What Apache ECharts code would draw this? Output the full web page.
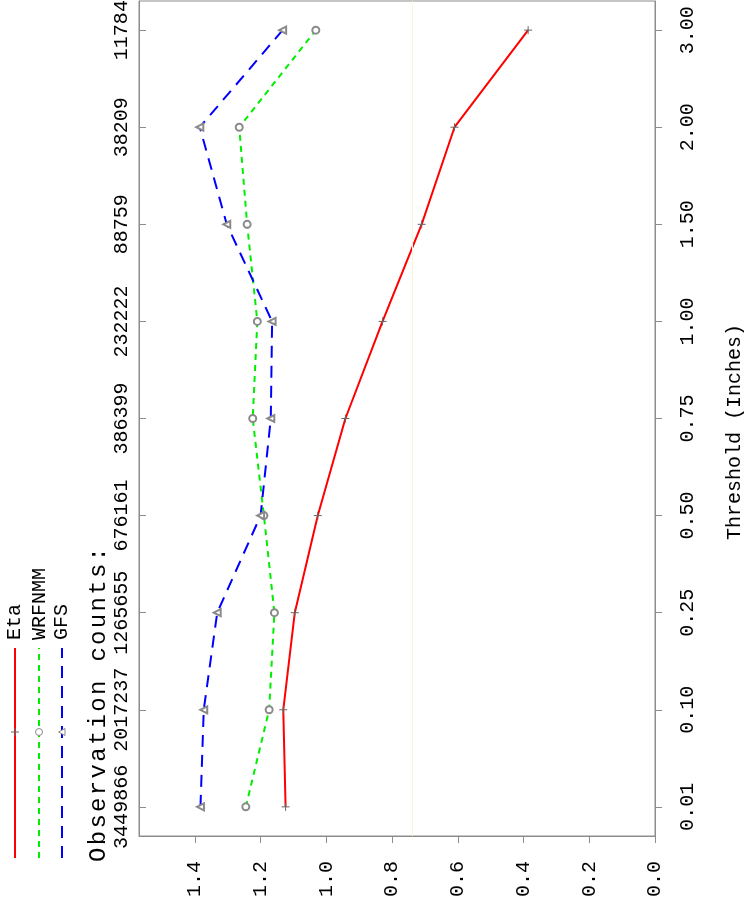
<!DOCTYPE html>
<html>
<head>
<meta charset="utf-8">
<script src="https://cdn.jsdelivr.net/npm/echarts@6/dist/echarts.min.js"></script>
<style>
  html, body { margin: 0; padding: 0; background: #fff; }
  #chart { width: 747px; height: 903px; }
</style>
</head>
<body>
<div id="chart"></div>
<script>
// Precipitation threshold categories (inches) and observation counts per threshold
const thresholds = ['0.01', '0.10', '0.25', '0.50', '0.75', '1.00', '1.50', '2.00', '3.00'];
const obsCounts = ['3449866', '2017237', '1265655', '676161', '386399', '232222', '88759', '38209', '11784'];

// Score per threshold for each model
const etaValues = [1.124, 1.131, 1.096, 1.026, 0.942, 0.829, 0.710, 0.610, 0.386];
const wrfnmmValues = [1.245, 1.174, 1.158, 1.190, 1.224, 1.210, 1.241, 1.265, 1.032];
const gfsValues = [1.383, 1.373, 1.332, 1.200, 1.169, 1.165, 1.303, 1.385, 1.133];

const valueTicks = [0, 0.2, 0.4, 0.6, 0.8, 1.0, 1.2, 1.4];
const refLine = 0.745;

const FONT = 'Liberation Mono';
const AXIS_GREY = '#8c8c8c';
const MARK_GREY = '#8a8a8a';

const pts = vals => vals.map((v, i) => [v, i]);
const idx = thresholds.map((_, i) => i);

const chart = echarts.init(document.getElementById('chart'), null, { renderer: 'canvas' });

const plusPath = 'path://M0,5L10,5M5,0L5,10';

// Widely spaced caption: one glyph per text element
const caption = 'Observation counts:';
const captionGlyphs = caption.split('').map((ch, i) => ({
  type: 'text', x: 41 + i * 16.7, y: 99,
  style: { text: ch, font: '24px "Liberation Mono"', fill: '#000', verticalAlign: 'middle', align: 'left' }
}));

const option = {
  animation: false,
  backgroundColor: '#ffffff',
  grid: {
    left: 139, right: 92, top: 1, bottom: 67,
    containLabel: false,
    outerBoundsMode: 'none',
    show: true, borderColor: AXIS_GREY, borderWidth: 1, backgroundColor: 'transparent'
  },
  xAxis: {
    type: 'value',
    inverse: true,
    min: 0,
    max: 1.57,
    position: 'bottom',
    axisLine: { show: true, onZero: false, lineStyle: { color: AXIS_GREY, width: 1 } },
    axisTick: { show: true, inside: false, length: 7, lineStyle: { color: AXIS_GREY }, customValues: valueTicks },
    axisLabel: {
      rotate: 90, margin: 25, color: '#000', fontFamily: FONT, fontSize: 20,
      customValues: valueTicks,
      formatter: v => v.toFixed(1)
    },
    splitLine: { show: false }
  },
  yAxis: [
    {
      type: 'value',
      min: -0.3,
      max: 8.3,
      position: 'right',
      axisLine: { show: true, lineStyle: { color: AXIS_GREY } },
      axisTick: { show: true, inside: false, length: 7, lineStyle: { color: AXIS_GREY }, customValues: idx },
      axisLabel: {
        rotate: 90, margin: 23, color: '#000', fontFamily: FONT, fontSize: 20,
        customValues: idx,
        formatter: v => thresholds[Math.round(v)]
      },
      splitLine: { show: false }
    },
    {
      type: 'value',
      min: -0.3,
      max: 8.3,
      position: 'left',
      axisLine: { show: true, lineStyle: { color: AXIS_GREY } },
      axisTick: { show: true, inside: true, length: 7, lineStyle: { color: AXIS_GREY }, customValues: idx },
      axisLabel: {
        rotate: 90, margin: 7, color: '#000', fontFamily: FONT, fontSize: 20,
        customValues: idx,
        formatter: v => obsCounts[Math.round(v)]
      },
      splitLine: { show: false }
    }
  ],
  series: [
    {
      name: 'Eta',
      type: 'line',
      data: pts(etaValues),
      lineStyle: { color: '#ff0000', width: 2, type: 'solid' },
      symbol: plusPath,
      symbolSize: 8,
      itemStyle: { color: 'none', borderColor: '#666', borderWidth: 1 },
      z: 3,
      markLine: {
        silent: true,
        symbol: ['none', 'none'],
        label: { show: false },
        lineStyle: { color: '#f8f5d6', width: 1, type: 'solid' },
        data: [{ xAxis: refLine }]
      }
    },
    {
      name: 'WRFNMM',
      type: 'line',
      data: pts(wrfnmmValues),
      lineStyle: { color: '#00ee00', width: 2, type: [6, 5] },
      symbol: 'emptyCircle',
      symbolSize: 7,
      itemStyle: { color: MARK_GREY, borderColor: MARK_GREY, borderWidth: 1 },
      z: 3
    },
    {
      name: 'GFS',
      type: 'line',
      data: pts(gfsValues),
      lineStyle: { color: '#0000ff', width: 2, type: [12, 8] },
      symbol: 'emptyTriangle',
      symbolSize: 7,
      symbolRotate: 90,
      itemStyle: { color: MARK_GREY, borderColor: MARK_GREY, borderWidth: 1 },
      z: 3
    }
  ],
  graphic: [
    {
      // Axis title for the threshold axis, reading bottom to top
      type: 'text',
      x: 735,
      y: 432,
      rotation: Math.PI / 2,
      silent: true,
      style: { text: 'Threshold (Inches)', font: '20px "Liberation Mono"', fill: '#000', align: 'center', verticalAlign: 'middle' }
    },
    {
      // Legend drawn in the plot's own rotated frame: local x runs upward on screen
      type: 'group',
      x: 0,
      y: 903,
      rotation: Math.PI / 2,
      silent: true,
      children: [
        { type: 'line', shape: { x1: 45, y1: 15, x2: 255, y2: 15 }, style: { stroke: '#ff0000', lineWidth: 2 } },
        { type: 'line', shape: { x1: 167, y1: 15, x2: 175, y2: 15 }, style: { stroke: '#666', lineWidth: 1 } },
        { type: 'line', shape: { x1: 171, y1: 11, x2: 171, y2: 19 }, style: { stroke: '#666', lineWidth: 1 } },
        { type: 'text', x: 263, y: 15, style: { text: 'Eta', font: '20px "Liberation Mono"', fill: '#000', verticalAlign: 'middle', align: 'left' } },

        { type: 'line', shape: { x1: 45, y1: 39, x2: 255, y2: 39 }, style: { stroke: '#00ee00', lineWidth: 2, lineDash: [6, 5] } },
        { type: 'circle', shape: { cx: 171, cy: 39, r: 3.5 }, style: { fill: '#fff', stroke: MARK_GREY, lineWidth: 1 } },
        { type: 'text', x: 263, y: 40, style: { text: 'WRFNMM', font: '20px "Liberation Mono"', fill: '#000', verticalAlign: 'middle', align: 'left' } },

        { type: 'line', shape: { x1: 45, y1: 62, x2: 255, y2: 62 }, style: { stroke: '#0000ff', lineWidth: 2, lineDash: [12, 8] } },
        { type: 'polygon', shape: { points: [[171, 58.5], [174.5, 65], [167.5, 65]] }, style: { fill: '#fff', stroke: MARK_GREY, lineWidth: 1 } },
        { type: 'text', x: 263, y: 62, style: { text: 'GFS', font: '20px "Liberation Mono"', fill: '#000', verticalAlign: 'middle', align: 'left' } }
      ].concat(captionGlyphs)
    }
  ]
};

chart.setOption(option);
</script>
</body>
</html>
